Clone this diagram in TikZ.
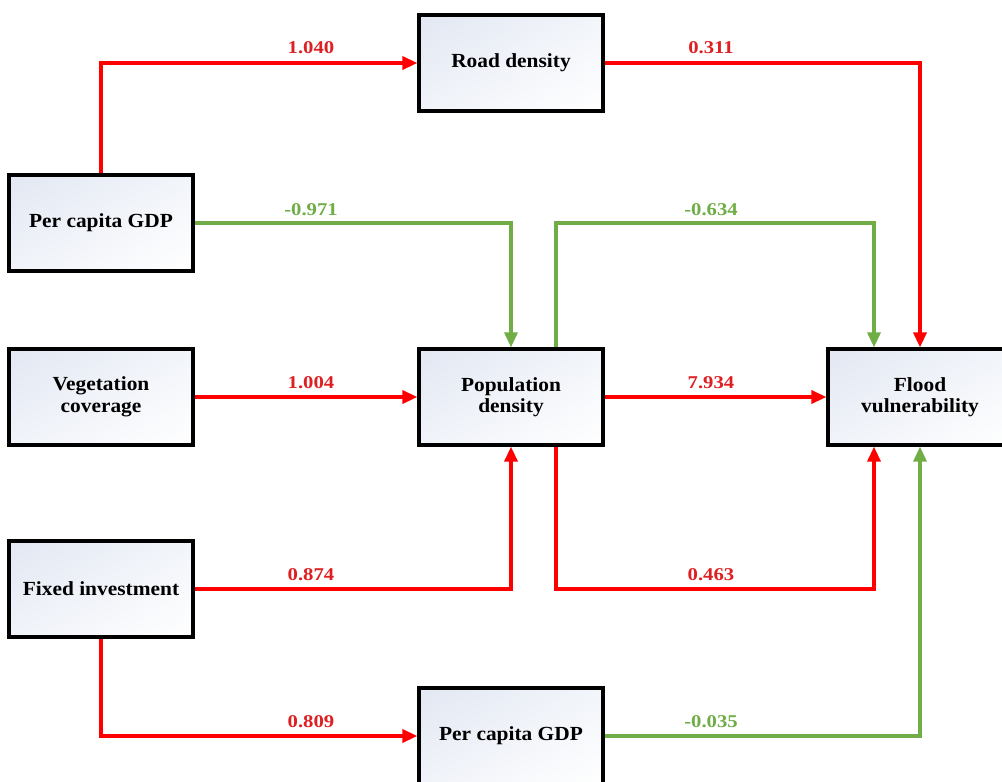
\documentclass[tikz,border=0pt]{standalone}
\usepackage{fontspec}
\setmainfont{Liberation Serif}[FakeStretch=1.07]
\newfontfamily\lblfont{Liberation Serif}[FakeStretch=1.15]
\usetikzlibrary{arrows.meta,shadows,shadings}
\definecolor{lnred}{RGB}{255,0,0}
\definecolor{lbred}{RGB}{222,32,34}
\definecolor{lngreen}{RGB}{112,173,71}
\definecolor{boxtl}{RGB}{226,231,242}
\definecolor{boxtr}{RGB}{242,245,250}
\definecolor{boxbl}{RGB}{240,243,249}
\tikzset{
  box/.style={draw=black, line width=3.2pt, shade, shading=bilinear interpolation,
    upper left=boxtl, upper right=boxtr, lower left=boxbl, lower right=white,
    minimum width=184pt, minimum height=96pt, align=center, inner sep=2pt,
    font=\fontsize{20}{21.5}\selectfont\bfseries,
    drop shadow={shadow xshift=2pt, shadow yshift=-2pt, opacity=0.25, fill=gray}},
  posline/.style={draw=lnred, line width=3.4pt, -{Triangle[length=15pt,width=13pt]}},
  negline/.style={draw=lngreen, line width=3.2pt, -{Triangle[length=15pt,width=13pt]}},
  poslbl/.style={text=lbred, anchor=base, font=\lblfont\fontsize{18}{18}\selectfont\bfseries, inner sep=0pt},
  neglbl/.style={text=lngreen, anchor=base, font=\lblfont\fontsize{18}{18}\selectfont\bfseries, inner sep=0pt}
}
\begin{document}
\begin{tikzpicture}[x=1pt,y=-1pt]
\useasboundingbox (0,0) rectangle (1002,782);
\clip (0,0) rectangle (1002,782);
\fill[white] (0,0) rectangle (1002,782);
% boxes
\node[box] (road)  at (511,63)  {Road density};
\node[box] (gdpa)  at (101,223) {Per capita GDP};
\node[box] (veg)   at (101,397) {Vegetation\\coverage};
\node[box] (pop)   at (511,397) {Population\\density};
\node[box] (flood) at (920,397) {Flood\\vulnerability};
\node[box] (fix)   at (101,589) {Fixed investment};
\node[box] (gdpb)  at (511,736) {Per capita GDP};
% helper coordinates
\coordinate (popN) at ([xshift=45pt]pop.north);
\coordinate (popS) at ([xshift=45pt]pop.south);
\coordinate (flN)  at ([xshift=-46pt]flood.north);
\coordinate (flS)  at ([xshift=-46pt]flood.south);
% connectors
\draw[posline] (gdpa.north) |- (road.west);
\draw[posline] (road.east) -| (flood.north);
\draw[negline] (gdpa.east) -| (pop.north);
\draw[negline] (popN) |- (flN |- gdpa.east) -- (flN);
\draw[posline] (veg.east) -- (pop.west);
\draw[posline] (pop.east) -- (flood.west);
\draw[posline] (fix.east) -| (pop.south);
\draw[posline] (popS) |- (flS |- fix.east) -- (flS);
\draw[posline] (fix.south) |- (gdpb.west);
\draw[negline] (gdpb.east) -| (flood.south);
% labels
\node[poslbl] (l1) at (311,53)  {1.040};
\node[poslbl] (l2) at (711,53)  {0.311};
\node[neglbl] (l3) at (311,215) {-0.971};
\node[neglbl] (l4) at (711,215) {-0.634};
\node[poslbl] (l5) at (311,388) {1.004};
\node[poslbl] (l6) at (711,388) {7.934};
\node[poslbl] (l7) at (311,580) {0.874};
\node[poslbl] (l8) at (711,580) {0.463};
\node[poslbl] (l9) at (311,727) {0.809};
\node[neglbl] (l10) at (711,727) {-0.035};
\end{tikzpicture}
\end{document}
